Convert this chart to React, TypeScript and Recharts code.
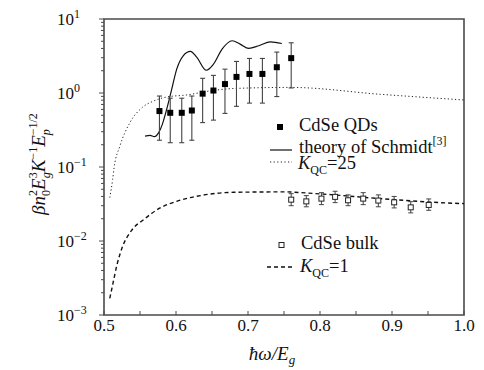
import React from "react";
import { ComposedChart, Line, Scatter, ErrorBar, XAxis, YAxis, ReferenceArea } from "recharts";

// CdSe QDs, measured points with error bar ends
const qdX = [0.577, 0.592, 0.608, 0.622, 0.637, 0.652, 0.668, 0.684, 0.702, 0.72, 0.74, 0.76];
const qdY = [0.57, 0.54, 0.54, 0.58, 0.98, 1.08, 1.32, 1.65, 1.81, 1.81, 2.23, 2.96];
const qdLow = [0.23, 0.213, 0.213, 0.23, 0.398, 0.43, 0.53, 0.66, 0.73, 0.73, 0.895, 1.17];
const qdHigh = [0.91, 0.85, 0.85, 0.91, 1.58, 1.73, 2.1, 2.67, 2.93, 2.93, 3.57, 4.77];

// CdSe bulk
const bulkX = [0.76, 0.781, 0.802, 0.821, 0.839, 0.86, 0.881, 0.903, 0.926, 0.951];
const bulkY = [0.0362, 0.0343, 0.0374, 0.0395, 0.0355, 0.0374, 0.0352, 0.0333, 0.0285, 0.0307];
const bulkLow = [0.03, 0.029, 0.031, 0.033, 0.03, 0.031, 0.029, 0.028, 0.024, 0.026];
const bulkHigh = [0.0436, 0.041, 0.045, 0.047, 0.042, 0.045, 0.042, 0.04, 0.034, 0.037];

// theory of Schmidt
const schmidtX = [0.557, 0.564, 0.57, 0.576, 0.581, 0.587, 0.594, 0.601, 0.61, 0.62, 0.629, 0.642, 0.652, 0.664, 0.678, 0.689, 0.701, 0.715, 0.731, 0.747];
const schmidtY = [0.262, 0.267, 0.257, 0.291, 0.377, 0.6, 1.12, 2.1, 3.18, 3.65, 3.03, 2.03, 2.45, 3.92, 5.08, 4.58, 4.01, 4.35, 4.92, 4.67];

// K_QC = 25
const k25X = [0.508, 0.512, 0.514, 0.522, 0.536, 0.553, 0.569, 0.587, 0.615, 0.648, 0.68, 0.759, 0.884, 1.0];
const k25Y = [0.0386, 0.0676, 0.0975, 0.191, 0.398, 0.636, 0.78, 0.883, 0.941, 1.07, 1.15, 1.19, 0.96, 0.805];

// K_QC = 1
const k1X = [0.508, 0.512, 0.518, 0.525, 0.539, 0.555, 0.578, 0.601, 0.634, 0.68, 0.75, 0.792, 0.884, 0.975, 1.0];
const k1Y = [0.00168, 0.00255, 0.00476, 0.00802, 0.0142, 0.0194, 0.028, 0.0344, 0.0411, 0.0455, 0.0461, 0.0438, 0.0374, 0.0327, 0.032];

const xTicks = [0.5, 0.55, 0.6, 0.65, 0.7, 0.75, 0.8, 0.85, 0.9, 0.95, 1.0];
const xMajor = [0.5, 0.6, 0.7, 0.8, 0.9, 1.0];
const yMajor = [0.001, 0.01, 0.1, 1, 10];
const yExp = ["\u22123", "\u22122", "\u22121", "0", "1"];
const yMinorMult = [2, 3, 4, 5, 6, 7, 8, 9];

const yTicks: number[] = [];
yMajor.forEach((m, i) => {
  yTicks.push(m);
  if (i < yMajor.length - 1) yMinorMult.forEach((k) => yTicks.push(m * k));
});

const pts = (xs: number[], ys: number[]) => xs.map((x, i) => ({ x, y: ys[i] }));
const qdData = qdX.map((x, i) => ({ x, y: qdY[i], err: [qdY[i] - qdLow[i], qdHigh[i] - qdY[i]] }));
const bulkData = bulkX.map((x, i) => ({ x, y: bulkY[i], err: [bulkY[i] - bulkLow[i], bulkHigh[i] - bulkY[i]] }));

const FONT = "'Liberation Serif', 'Times New Roman', serif";
const FRAME = "#4a4a4a";

function XTick(props: any) {
  const { x, y, payload } = props;
  const major = xMajor.some((m) => Math.abs(m - payload.value) < 1e-6);
  return (
    <g>
      <line x1={x} x2={x} y1={y} y2={y - 4} stroke={FRAME} strokeWidth={1} />
      {major && (
        <text x={x} y={y + 16} textAnchor="middle" fontSize={17} fontFamily={FONT} fill="#111">
          {payload.value.toFixed(1)}
        </text>
      )}
    </g>
  );
}

function YTick(props: any) {
  const { x, y, payload } = props;
  const i = yMajor.findIndex((m) => Math.abs(m - payload.value) < m * 1e-6);
  if (i < 0) return <line x1={x - 3} x2={x} y1={y} y2={y} stroke={FRAME} strokeWidth={1} />;
  return (
    <g>
      <line x1={x - 5} x2={x} y1={y} y2={y} stroke={FRAME} strokeWidth={1} />
      <text x={x - 47} y={y + 6} fontSize={17} fontFamily={FONT} fill="#111">
        10
        <tspan fontSize={12} dy={-7}>{yExp[i]}</tspan>
      </text>
    </g>
  );
}

const FilledSquare = (p: any) => <rect x={p.cx - 3} y={p.cy - 3} width={6} height={6} fill="#000" />;
const OpenSquare = (p: any) => (
  <rect x={p.cx - 2.5} y={p.cy - 2.5} width={5} height={5} fill="#fff" stroke="#222" strokeWidth={1} />
);

export default function App() {
  return (
    <div style={{ position: "relative", width: 484, height: 370, background: "#fff" }}>
      <style>{"body{margin:0}"}</style>
      <ComposedChart width={484} height={370} margin={{ top: 19, right: 20, bottom: 0, left: 0 }}>
        <XAxis
          dataKey="x"
          type="number"
          domain={[0.5, 1.0]}
          ticks={xTicks}
          interval={0}
          allowDataOverflow
          height={55}
          tickSize={0}
          tickMargin={0}
          tickLine={false}
          axisLine={false}
          tick={<XTick />}
        />
        <YAxis
          dataKey="y"
          type="number"
          scale="log"
          domain={[0.001, 10]}
          ticks={yTicks}
          interval={0}
          allowDataOverflow
          width={104}
          tickSize={0}
          tickMargin={0}
          tickLine={false}
          axisLine={false}
          tick={<YTick />}
        />
        <ReferenceArea x1={0.5} x2={1.0} y1={0.001} y2={10} fill="none" fillOpacity={0} stroke={FRAME} strokeWidth={1.6} />
        <Line data={pts(k25X, k25Y)} dataKey="y" type="monotone" stroke="#222" strokeWidth={1} strokeDasharray="1.2 2.4" dot={false} isAnimationActive={false} />
        <Line data={pts(k1X, k1Y)} dataKey="y" type="monotone" stroke="#111" strokeWidth={1.4} strokeDasharray="4 3" dot={false} isAnimationActive={false} />
        <Line data={pts(schmidtX, schmidtY)} dataKey="y" type="monotone" stroke="#111" strokeWidth={1.2} dot={false} isAnimationActive={false} />
        <Scatter data={qdData} dataKey="y" shape={<FilledSquare />} isAnimationActive={false}>
          <ErrorBar dataKey="err" direction="y" width={2.5} stroke="#444" strokeWidth={1.1} />
        </Scatter>
        <Scatter data={bulkData} dataKey="y" shape={<OpenSquare />} isAnimationActive={false}>
          <ErrorBar dataKey="err" direction="y" width={2.5} stroke="#444" strokeWidth={1} />
        </Scatter>
      </ComposedChart>
      <svg width={484} height={370} style={{ position: "absolute", left: 0, top: 0, pointerEvents: "none" }} fontFamily={FONT} fill="#111">
        {/* legend */}
        <rect x={277} y={124} width={6} height={6} fill="#000" />
        <text x={299} y={131} fontSize={18.5}>CdSe QDs</text>
        <line x1={270} x2={292} y1={150} y2={150} stroke="#111" strokeWidth={1.2} />
        <text x={299} y={153} fontSize={18.5}>
          theory of Schmidt<tspan fontSize={12} dy={-8}>[3]</tspan>
        </text>
        <line x1={270} x2={292} y1={162} y2={162} stroke="#222" strokeWidth={1} strokeDasharray="1.2 2.4" />
        <text x={298} y={169} fontSize={18.5}>
          <tspan fontStyle="italic">K</tspan>
          <tspan fontSize={12} dy={5}>QC</tspan>
          <tspan dy={-5}>=25</tspan>
        </text>
        <rect x={279} y={242.5} width={5} height={5} fill="#fff" stroke="#222" strokeWidth={1} />
        <text x={301} y={249} fontSize={18.5}>CdSe bulk</text>
        <line x1={267} x2={292} y1={267} y2={267} stroke="#111" strokeWidth={1.4} strokeDasharray="4 3" />
        <text x={300} y={272} fontSize={18.5}>
          <tspan fontStyle="italic">K</tspan>
          <tspan fontSize={12} dy={5}>QC</tspan>
          <tspan dy={-5}>=1</tspan>
        </text>
        {/* axis titles */}
        <text x={272} y={360} fontSize={19} textAnchor="middle" fontStyle="italic">
          ħω/E<tspan fontSize={13} dy={4}>g</tspan>
        </text>
        <text transform="translate(45,164) rotate(-90)" textAnchor="middle" fontSize={19}>
          <tspan fontStyle="italic">βn</tspan>
          <tspan fontSize={12} dy={5}>0</tspan>
          <tspan fontSize={12} dx={-6} dy={-13}>2</tspan>
          <tspan fontStyle="italic" dy={8}>E</tspan>
          <tspan fontSize={12} fontStyle="italic" dy={5}>g</tspan>
          <tspan fontSize={12} dx={-6} dy={-13}>3</tspan>
          <tspan fontStyle="italic" dy={8}>K</tspan>
          <tspan fontSize={12} dy={-8}>−1</tspan>
          <tspan fontStyle="italic" dy={8}>E</tspan>
          <tspan fontSize={12} fontStyle="italic" dy={5}>p</tspan>
          <tspan fontSize={12} dx={-6} dy={-13}>−1/2</tspan>
        </text>
      </svg>
    </div>
  );
}
